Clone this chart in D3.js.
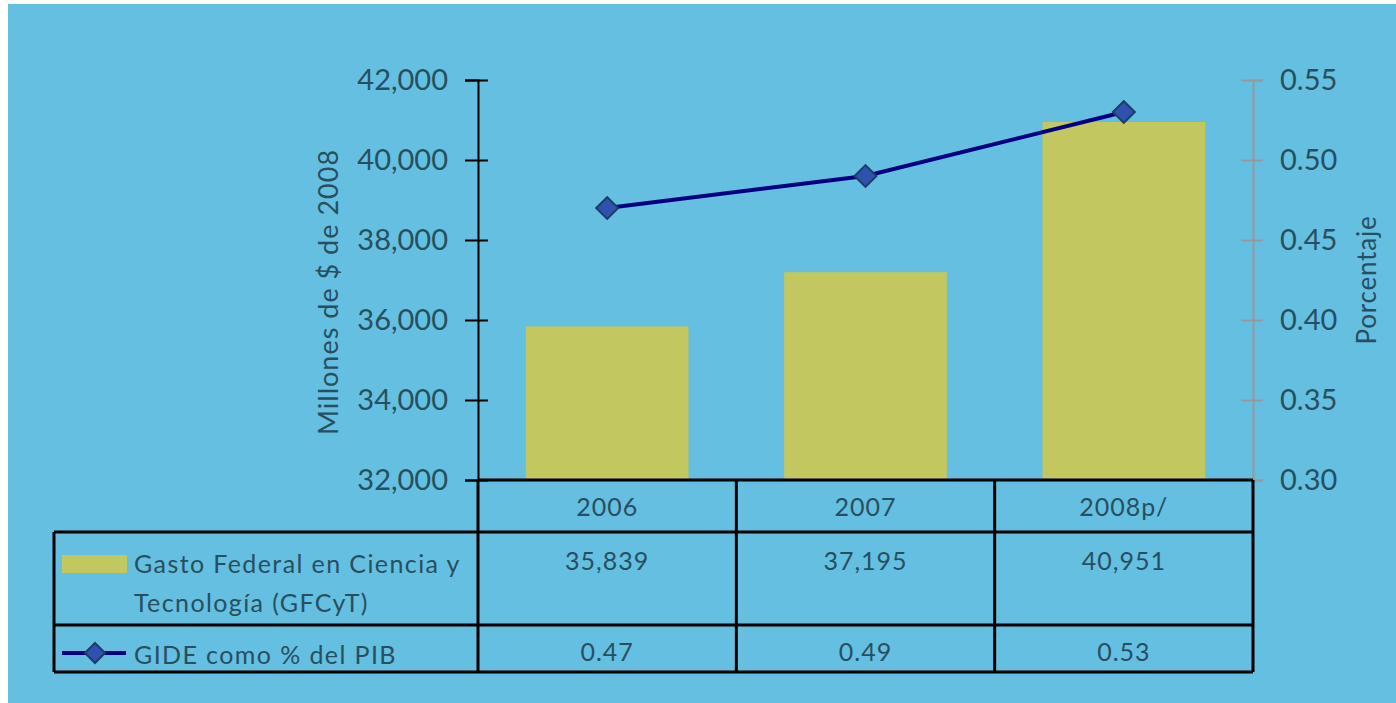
<!DOCTYPE html>
<html>
<head>
<meta charset="utf-8">
<script src="https://cdn.jsdelivr.net/npm/d3@7"></script>
<style>
  html, body { margin: 0; padding: 0; background: #fff; }
  svg { display: block; }
  text { font-family: Lato, "Open Sans", sans-serif; fill: #274f5f; }
</style>
</head>
<body>
<div id="chart"></div>
<script>
// values
const categories = ['2006', '2007', '2008p/'];
const gastoValues = [35839, 37195, 40951];
const gideValues = [0.47, 0.49, 0.53];
const leftTicks = [32000, 34000, 36000, 38000, 40000, 42000];
const rightTicks = [0.30, 0.35, 0.40, 0.45, 0.50, 0.55];
const seriesNames = [['Gasto Federal en Ciencia y', 'Tecnología (GFCyT)'], ['GIDE como % del PIB']];

const W = 1396, H = 703;
const bg = '#64bfe1', barColor = '#c2c75f', lineColor = '#000080';
const markFill = '#2f52b0', markStroke = '#1b3d66';

const svg = d3.select('#chart').append('svg')
  .attr('width', W)
  .attr('height', H);

svg.append('rect')
  .attr('x', 8).attr('y', 4)
  .attr('width', W - 8).attr('height', H - 4)
  .attr('fill', bg);

const plot = { left: 478, right: 1253, top: 80, bottom: 480 };

const x = d3.scaleBand()
  .domain(categories)
  .range([plot.left, plot.right])
  .paddingInner(0.37)
  .paddingOuter(0.185);

const xc = d3.scaleBand()
  .domain(categories)
  .range([plot.left, plot.right]);

const yLeft = d3.scaleLinear().domain([32000, 42000]).range([plot.bottom, plot.top]);
const yRight = d3.scaleLinear().domain([0.30, 0.55]).range([plot.bottom, plot.top]);

// bars
svg.append('g')
  .selectAll('rect')
  .data(gastoValues)
  .enter()
  .append('rect')
  .attr('x', (d, i) => x(categories[i]))
  .attr('width', x.bandwidth())
  .attr('y', d => yLeft(d))
  .attr('height', d => plot.bottom - yLeft(d))
  .attr('fill', barColor);

// left axis
const axL = svg.append('g')
  .attr('transform', `translate(${plot.left},0)`)
  .call(d3.axisLeft(yLeft).tickValues(leftTicks).tickFormat(d3.format(',')).tickSizeOuter(0).tickSize(13).tickPadding(17));
axL.select('.domain').attr('stroke', '#000').attr('stroke-width', 2);
axL.selectAll('.tick line').attr('x1', 10).attr('stroke', '#000').attr('stroke-width', 2);
axL.selectAll('.tick text').attr('font-size', 29).attr('font-family', 'Lato').style('fill', '#274f5f');

// right axis
const axR = svg.append('g')
  .attr('transform', `translate(${plot.right},0)`)
  .call(d3.axisRight(yRight).tickValues(rightTicks).tickFormat(d3.format('.2f')).tickSizeOuter(0).tickSize(10).tickPadding(17));
axR.select('.domain').attr('stroke', '#999').attr('stroke-width', 2);
axR.selectAll('.tick line').attr('x1', -12).attr('stroke', '#999').attr('stroke-width', 2);
axR.selectAll('.tick text').attr('font-size', 29).attr('font-family', 'Lato').style('fill', '#274f5f');

// axis titles
svg.append('text')
  .attr('transform', `translate(338,292) rotate(-90)`)
  .attr('text-anchor', 'middle')
  .attr('font-size', 27)
  .attr('letter-spacing', 1)
  .text('Millones de $ de 2008');

svg.append('text')
  .attr('transform', `translate(1376,280) rotate(-90)`)
  .attr('text-anchor', 'middle')
  .attr('font-size', 26)
  .attr('letter-spacing', 0.8)
  .text('Porcentaje');

// line
const line = d3.line()
  .x((d, i) => xc(categories[i]) + xc.bandwidth() / 2)
  .y(d => yRight(d));

svg.append('path')
  .datum(gideValues)
  .attr('d', line)
  .attr('fill', 'none')
  .attr('stroke', lineColor)
  .attr('stroke-width', 4);

const diamond = d3.symbol().type(d3.symbolSquare).size(240);

svg.append('g')
  .selectAll('path')
  .data(gideValues)
  .enter()
  .append('path')
  .attr('d', diamond)
  .attr('transform', (d, i) => `translate(${xc(categories[i]) + xc.bandwidth() / 2},${yRight(d)}) rotate(45)`)
  .attr('fill', markFill)
  .attr('stroke', markStroke)
  .attr('stroke-width', 2);

// data table
const rows = { head: [480, 532], gasto: [532, 625], gide: [625, 672] };
const tableLeft = 54;
const grid = svg.append('g').attr('stroke', '#000').attr('stroke-width', 3);

[rows.head[1], rows.gasto[1], rows.gide[1]].forEach(yy => {
  grid.append('line').attr('x1', tableLeft).attr('x2', plot.right).attr('y1', yy).attr('y2', yy);
});
grid.append('line').attr('x1', plot.left).attr('x2', plot.right).attr('y1', rows.head[0]).attr('y2', rows.head[0]);
grid.append('line').attr('x1', tableLeft).attr('x2', tableLeft).attr('y1', rows.head[1]).attr('y2', rows.gide[1]);
categories.forEach(c => {
  grid.append('line').attr('x1', xc(c)).attr('x2', xc(c)).attr('y1', rows.head[0]).attr('y2', rows.gide[1]);
});
grid.append('line').attr('x1', plot.right).attr('x2', plot.right).attr('y1', rows.head[0]).attr('y2', rows.gide[1]);

const cell = svg.append('g').attr('text-anchor', 'middle').attr('font-size', 25).attr('letter-spacing', 1);

cell.selectAll('.cat').data(categories).enter().append('text')
  .attr('x', d => xc(d) + xc.bandwidth() / 2)
  .attr('y', 516)
  .text(d => d);

cell.selectAll('.gv').data(gastoValues).enter().append('text')
  .attr('x', (d, i) => xc(categories[i]) + xc.bandwidth() / 2)
  .attr('y', 570)
  .text(d => d3.format(',')(d));

cell.selectAll('.pv').data(gideValues).enter().append('text')
  .attr('x', (d, i) => xc(categories[i]) + xc.bandwidth() / 2)
  .attr('y', 661)
  .text(d => d3.format('.2f')(d));

// legend keys in table
svg.append('rect')
  .attr('x', 62).attr('y', 555)
  .attr('width', 65).attr('height', 18)
  .attr('fill', barColor);

svg.append('line')
  .attr('x1', 62).attr('x2', 126)
  .attr('y1', 653).attr('y2', 653)
  .attr('stroke', lineColor).attr('stroke-width', 4);

svg.append('path')
  .attr('d', d3.symbol().type(d3.symbolSquare).size(200))
  .attr('transform', 'translate(95,653) rotate(45)')
  .attr('fill', markFill)
  .attr('stroke', markStroke)
  .attr('stroke-width', 2);

const leg = svg.append('g').attr('font-size', 25).attr('letter-spacing', 1.4);
leg.append('text').attr('x', 134).attr('y', 573).text(seriesNames[0][0]);
leg.append('text').attr('x', 134).attr('y', 612).text(seriesNames[0][1]);
leg.append('text').attr('x', 134).attr('y', 664).text(seriesNames[1][0]);
</script>
</body>
</html>
